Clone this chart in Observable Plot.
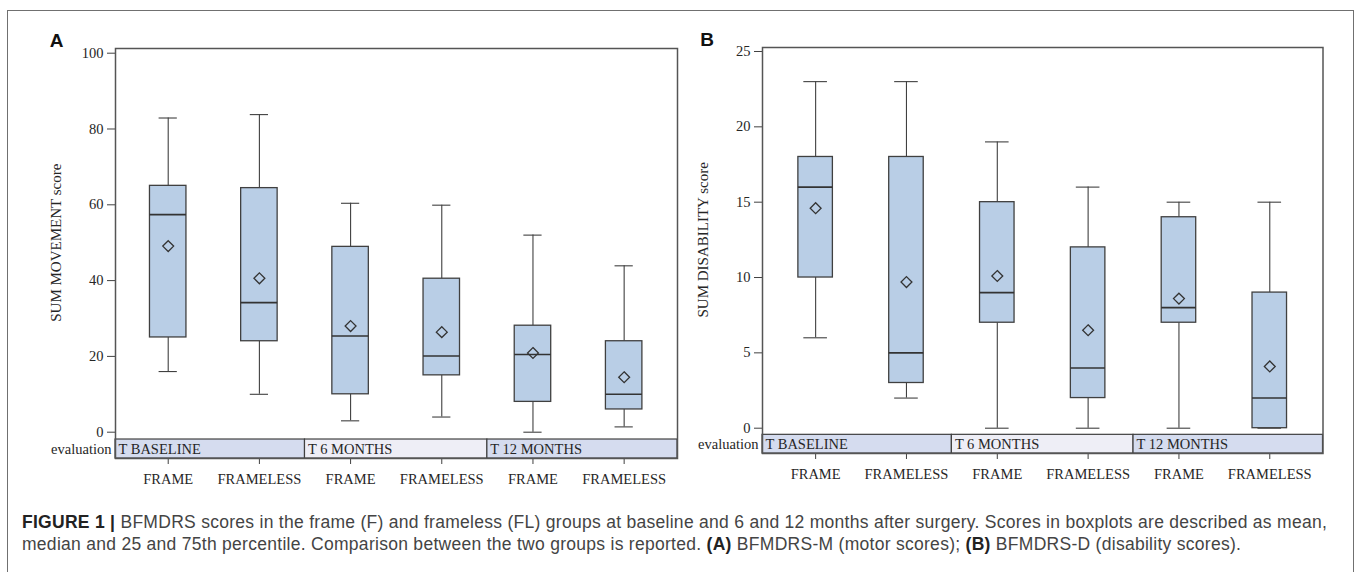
<!DOCTYPE html>
<html><head><meta charset="utf-8">
<script src="https://cdn.jsdelivr.net/npm/d3@7"></script>
<script src="https://cdn.jsdelivr.net/npm/@observablehq/plot@0.6"></script>
<style>
html,body{margin:0;padding:0;background:#fff;width:1358px;height:572px;overflow:hidden;}
#border{position:absolute;left:7px;top:10px;width:1347px;height:640px;border:1.5px solid #707070;box-sizing:border-box;}
#panelA{position:absolute;left:0;top:0;}
#panelB{position:absolute;left:680px;top:0;}
#caption{position:absolute;left:22px;top:512px;font-family:"Liberation Sans",Arial,sans-serif;font-size:17.5px;line-height:21.5px;color:#444;white-space:nowrap;}
#caption b{color:#222}
</style></head><body>
<div id="border"></div>
<div id="panelA"></div><div id="panelB"></div>
<div id="caption"><span id="l1"><b>FIGURE 1 |</b> BFMDRS scores in the frame (F) and frameless (FL) groups at baseline and 6 and 12 months after surgery. Scores in boxplots are described as mean,</span><br><span id="l2">median and 25 and 75th percentile. Comparison between the two groups is reported. <b>(A)</b> BFMDRS-M (motor scores); <b>(B)</b> BFMDRS-D (disability scores).</span></div>
<script>
// ---- data ----
const evaluations = ["T BASELINE", "T 6 MONTHS", "T 12 MONTHS"];
const categories = ["FRAME", "FRAMELESS", "FRAME", "FRAMELESS", "FRAME", "FRAMELESS"];
const categoryEvaluation = ["T BASELINE", "T BASELINE", "T 6 MONTHS", "T 6 MONTHS", "T 12 MONTHS", "T 12 MONTHS"];

// Panel A: SUM MOVEMENT score
const movementLow    = [16, 10, 3, 4, 0, 1.4];
const movementQ1     = [25, 24, 10, 15, 8, 6];
const movementMedian = [57.4, 34.2, 25.4, 20.1, 20.5, 10];
const movementMean   = [49.1, 40.6, 28, 26.4, 20.9, 14.5];
const movementQ3     = [65, 64.4, 48.9, 40.5, 28.1, 24];
const movementHigh   = [82.9, 83.8, 60.4, 59.9, 52, 43.9];
const movementTicks  = [0, 20, 40, 60, 80, 100];

// Panel B: SUM DISABILITY score
const disabilityLow    = [6, 2, 0, 0, 0, 0];
const disabilityQ1     = [10, 3, 7, 2, 7, 0];
const disabilityMedian = [16, 5, 9, 4, 8, 2];
const disabilityMean   = [14.6, 9.7, 10.1, 6.5, 8.6, 4.1];
const disabilityQ3     = [18, 18, 15, 12, 14, 9];
const disabilityHigh   = [23, 23, 19, 16, 15, 15];
const disabilityTicks  = [0, 5, 10, 15, 20, 25];

function buildRows(low, q1, median, mean, q3, high) {
  return categories.map((c, i) => ({
    pos: i + 1, label: c, evaluation: categoryEvaluation[i],
    low: low[i], q1: q1[i], median: median[i], mean: mean[i], q3: q3[i], high: high[i]
  }));
}

const serif = '"Liberation Serif", "Times New Roman", serif';
const ink = "#404040";
const txt = "#262626";

function panel(o) {
  const rows = o.rows;
  const last = evaluations.length - 1;
  const strips = evaluations.map((e, k) => {
    const ps = rows.filter(r => r.evaluation === e).map(r => r.pos);
    return {evaluation: e, k,
      x1: k === 0 ? o.xDomain[0] : d3.min(ps) - 0.5,
      x2: k === last ? o.xDomain[1] : d3.max(ps) + 0.5};
  });
  const stripMid = (o.stripTop + o.yDomain[0]) / 2;
  const yMid = (d3.min(o.ticks) + d3.max(o.ticks)) / 2;
  const bw = o.boxHalf, cw = o.capHalf;
  return Plot.plot({
    width: o.width, height: o.height,
    marginLeft: o.ml, marginRight: o.mr, marginTop: o.mt, marginBottom: o.mb,
    x: {domain: o.xDomain, axis: null},
    y: {domain: o.yDomain, axis: null},
    style: {fontFamily: serif, fontSize: "14px", color: txt, background: "none", overflow: "visible"},
    marks: [
      // evaluation strip
      Plot.rect(strips, {x1: "x1", x2: "x2", y1: o.yDomain[0], y2: o.stripTop,
        fill: d => d.k === 1 ? "#eeeef6" : "#d5dcef", stroke: ink, strokeWidth: 1.2}),
      Plot.text(strips, {x: "x1", y: stripMid, text: "evaluation", textAnchor: "start", dx: 3, fontSize: 14.5, fill: txt}),
      Plot.text(["evaluation"], {x: o.xDomain[0], y: stripMid, text: d => d, textAnchor: "end", dx: -4, fontSize: 14.5, fill: txt}),
      // whiskers
      Plot.ruleX(rows, {x: "pos", y1: "low", y2: "q1", stroke: ink, strokeWidth: 1.1}),
      Plot.ruleX(rows, {x: "pos", y1: "q3", y2: "high", stroke: ink, strokeWidth: 1.1}),
      Plot.ruleY(rows, {y: "low", x1: d => d.pos - cw, x2: d => d.pos + cw, stroke: ink, strokeWidth: 1.1}),
      Plot.ruleY(rows, {y: "high", x1: d => d.pos - cw, x2: d => d.pos + cw, stroke: ink, strokeWidth: 1.1}),
      // boxes
      Plot.rect(rows, {x1: d => d.pos - bw, x2: d => d.pos + bw, y1: "q1", y2: "q3", fill: "#b9cee6", stroke: ink, strokeWidth: 1.3}),
      Plot.ruleY(rows, {y: "median", x1: d => d.pos - bw, x2: d => d.pos + bw, stroke: "#333", strokeWidth: 1.6}),
      Plot.dot(rows, {x: "pos", y: "mean", symbol: "diamond2", r: 4.9, stroke: "#333", fill: "none", strokeWidth: 1.3}),
      // axes
      Plot.axisY(o.ticks, {anchor: "left", tickSize: 8, tickPadding: 4, fontSize: 14.5, label: null, stroke: ink, fill: txt}),
      Plot.axisX(rows.map(r => r.pos), {anchor: "bottom", tickSize: 6, tickPadding: o.xPad, fontSize: 14.5, label: null,
        tickFormat: p => categories[p - 1], stroke: ink, fill: txt}),
      Plot.text([o.yLabel], {x: o.xDomain[0], y: yMid, text: d => d, rotate: -90, dx: o.yLabelDx, fontSize: 15, fill: txt}),
      Plot.text([o.letter], {x: o.xDomain[0], y: o.yDomain[1], text: d => d, dx: o.letterDx, dy: o.letterDy,
        fontFamily: '"Liberation Sans", Arial, sans-serif', fontWeight: "bold", fontSize: 19, fill: "#111"}),
      Plot.frame({stroke: "#555", strokeWidth: 1.5})
    ]
  });
}

const plotA = panel({
  rows: buildRows(movementLow, movementQ1, movementMedian, movementMean, movementQ3, movementHigh),
  ticks: movementTicks, yLabel: "SUM MOVEMENT score", letter: "A",
  width: 690, height: 495, ml: 115, mr: 13, mt: 48, mb: 37,
  xDomain: [0.422, 6.585], yDomain: [-6.94, 101.24], stripTop: -1.93,
  boxHalf: 0.2, capHalf: 0.1, xPad: 9, yLabelDx: -59, letterDx: -59, letterDy: -8
});
document.getElementById("panelA").appendChild(plotA);

const plotB = panel({
  rows: buildRows(disabilityLow, disabilityQ1, disabilityMedian, disabilityMean, disabilityQ3, disabilityHigh),
  ticks: disabilityTicks, yLabel: "SUM DISABILITY score", letter: "B",
  width: 678, height: 495, ml: 82, mr: 35.5, mt: 47, mb: 42,
  xDomain: [0.415, 6.586], yDomain: [-1.679, 25.265], stripTop: -0.44,
  boxHalf: 0.19, capHalf: 0.13, xPad: 9, yLabelDx: -59, letterDx: -55.5, letterDy: -7.5
});
document.getElementById("panelB").appendChild(plotB);

// fit caption's first line to the reference width
const l1 = document.getElementById("l1");
const w = l1.getBoundingClientRect().width;
const n = l1.textContent.length;
document.getElementById("caption").style.letterSpacing = ((1305 - w) / n).toFixed(3) + "px";
</script>
</body></html>
